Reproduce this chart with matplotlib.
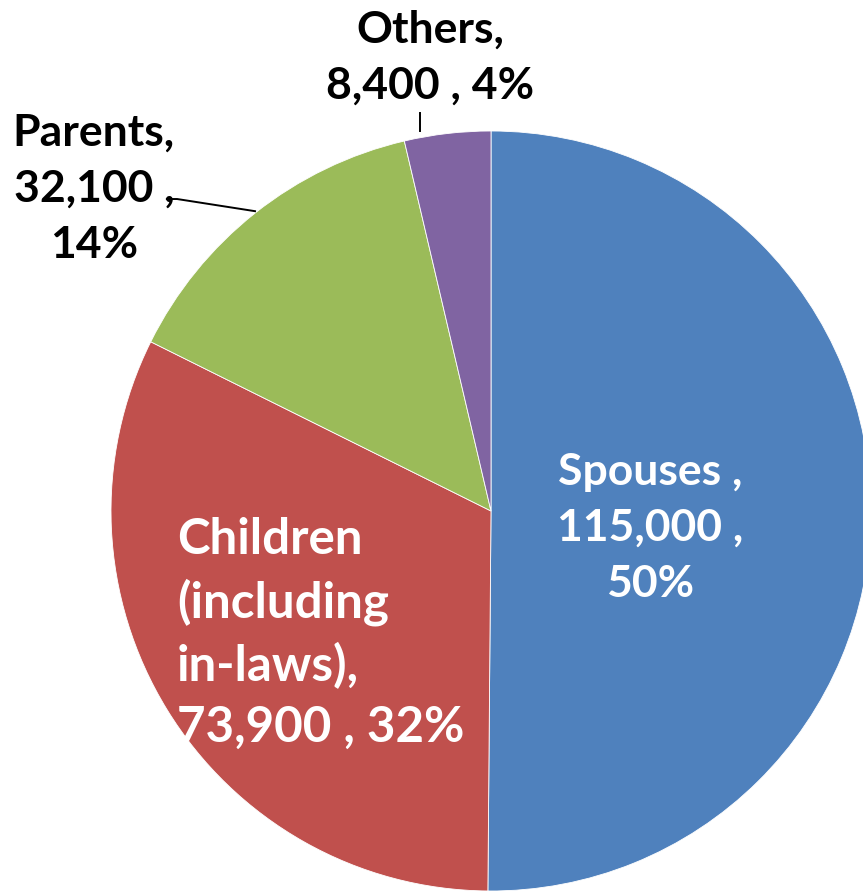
import matplotlib.pyplot as plt

categories = ["Spouses", "Children (including in-laws)", "Parents", "Others"]
values = [115000, 73900, 32100, 8400]
colors = ["#4F81BD", "#C0504D", "#9BBB59", "#8064A2"]
label_texts = [
    "Spouses ,\n115,000 ,\n50%",
    "Children\n(including\nin-laws),\n73,900 , 32%",
    "Parents,\n32,100 ,\n14%",
    "Others,\n8,400 , 4%",
]

plt.rcParams['font.family'] = ['Lato', 'DejaVu Sans']

W, H = 863, 891
fig = plt.figure(figsize=(W / 100, H / 100), dpi=100)
# pie centre at (491, 511) px from top-left, radius 380 px
ax = fig.add_axes([111 / W, 0 / H, 760 / W, 760 / H])
ax.set_aspect('equal')
ax.axis('off')

ax.pie(values, colors=colors, startangle=90, counterclock=False, radius=1,
       wedgeprops=dict(edgecolor='white', linewidth=0.6), frame=False)
ax.set_xlim(-1, 1)
ax.set_ylim(-1, 1)

# labels
ax.text(0.418, -0.045, label_texts[0], color='white', fontsize=32, fontweight='bold',
        ha='center', va='center', linespacing=1.49, clip_on=False)
ax.text(-0.826, -0.322, label_texts[1], color='white', fontsize=35.5, fontweight='bold',
        ha='left', va='center', linespacing=1.41, clip_on=False)
ax.text(-1.045, 0.849, label_texts[2], color='black', fontsize=32, fontweight='bold',
        ha='center', va='center', linespacing=1.49, clip_on=False)
ax.text(-0.16, 1.193, label_texts[3], color='black', fontsize=32, fontweight='bold',
        ha='center', va='center', linespacing=1.49, clip_on=False)

# leader lines
ax.plot([-0.187, -0.187], [1.047, 1.0], color='black', lw=1.4, clip_on=False)
ax.plot([-0.853, -0.826, -0.621], [0.821, 0.821, 0.789], color='black', lw=1.4, clip_on=False)

fig.savefig("out.png", dpi=100)
